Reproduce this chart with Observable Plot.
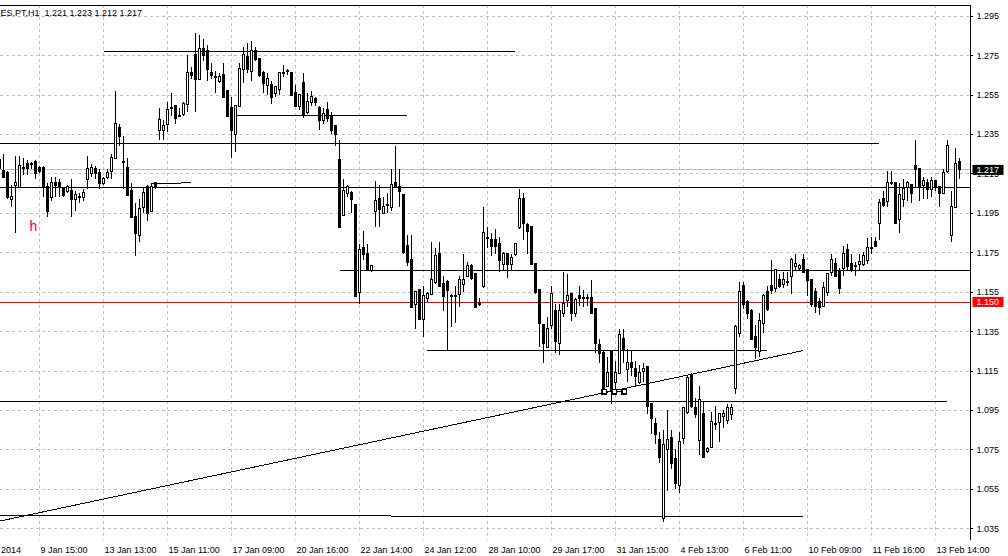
<!DOCTYPE html>
<html><head><meta charset="utf-8">
<script src="https://cdn.jsdelivr.net/npm/d3@7"></script>
<script src="https://cdn.jsdelivr.net/npm/@observablehq/plot@0.6"></script>
<style>
html,body{margin:0;padding:0;background:#fff;}
#chart{width:1008px;height:556px;overflow:hidden;}
</style></head><body><div id="chart"></div>
<script>
const symbolLabel = "ES.PT,H1\u00a0\u00a01.221 1.223 1.212 1.217";

// hourly bars, [open, high, low, close]
const ohlc = [
[1.222,1.227,1.214,1.218],[1.216,1.225,1.213,1.213],[1.215,1.216,1.202,1.203],[1.202,1.209,1.198,1.203],[1.209,1.224,1.185,1.210],
[1.208,1.224,1.208,1.219],[1.218,1.223,1.214,1.218],[1.220,1.222,1.214,1.218],[1.220,1.221,1.217,1.220],[1.221,1.222,1.212,1.215],
[1.218,1.219,1.215,1.216],[1.218,1.219,1.203,1.208],[1.208,1.210,1.193,1.196],[1.203,1.213,1.201,1.210],[1.210,1.213,1.203,1.209],
[1.210,1.212,1.203,1.208],[1.207,1.208,1.203,1.204],[1.206,1.209,1.205,1.208],[1.206,1.212,1.193,1.202],[1.202,1.206,1.196,1.204],
[1.203,1.205,1.200,1.203],[1.203,1.207,1.201,1.205],[1.212,1.224,1.207,1.217],[1.215,1.220,1.213,1.218],[1.217,1.219,1.212,1.215],
[1.215,1.217,1.207,1.210],[1.210,1.213,1.209,1.212],[1.213,1.217,1.212,1.215],[1.216,1.225,1.212,1.223],[1.223,1.257,1.223,1.240],
[1.238,1.240,1.229,1.234],[1.221,1.234,1.207,1.221],[1.218,1.223,1.204,1.204],[1.206,1.210,1.193,1.193],[1.193,1.200,1.173,1.185],
[1.184,1.202,1.180,1.197],[1.198,1.208,1.195,1.205],[1.208,1.209,1.191,1.195],[1.196,1.210,1.196,1.208],[1.210,1.210,1.207,1.208],
[1.237,1.248,1.232,1.242],[1.237,1.242,1.232,1.239],[1.240,1.251,1.236,1.247],[1.248,1.256,1.244,1.248],[1.249,1.249,1.240,1.243],
[1.244,1.248,1.244,1.244],[1.245,1.251,1.244,1.250],[1.250,1.275,1.246,1.266],[1.266,1.269,1.263,1.265],[1.275,1.286,1.246,1.263],
[1.263,1.285,1.263,1.278],[1.278,1.283,1.272,1.275],[1.277,1.280,1.262,1.268],[1.266,1.271,1.263,1.265],[1.264,1.267,1.256,1.264],
[1.262,1.266,1.261,1.264],[1.265,1.271,1.254,1.254],[1.257,1.257,1.244,1.244],[1.248,1.254,1.223,1.237],[1.235,1.249,1.226,1.249],
[1.249,1.271,1.249,1.268],[1.268,1.279,1.261,1.275],[1.274,1.281,1.266,1.268],[1.267,1.282,1.262,1.277],[1.277,1.279,1.272,1.273],
[1.273,1.273,1.264,1.265],[1.266,1.267,1.256,1.261],[1.260,1.266,1.255,1.263],[1.260,1.262,1.250,1.254],[1.256,1.259,1.254,1.259],
[1.258,1.266,1.255,1.266],[1.266,1.270,1.264,1.266],[1.267,1.268,1.265,1.267],[1.266,1.266,1.255,1.255],[1.256,1.260,1.249,1.249],
[1.249,1.255,1.247,1.255],[1.261,1.266,1.243,1.245],[1.246,1.256,1.245,1.251],[1.251,1.257,1.249,1.254],[1.253,1.254,1.249,1.251],
[1.248,1.249,1.237,1.242],[1.242,1.248,1.240,1.245],[1.247,1.251,1.241,1.243],[1.244,1.246,1.235,1.237],[1.239,1.239,1.229,1.235],
[1.222,1.232,1.188,1.188],[1.194,1.212,1.194,1.206],[1.205,1.209,1.203,1.208],[1.205,1.206,1.195,1.202],[1.199,1.199,1.153,1.153],
[1.155,1.179,1.149,1.176],[1.177,1.186,1.171,1.174],[1.174,1.179,1.166,1.166],[1.166,1.168,1.165,1.168],[1.196,1.211,1.188,1.201],
[1.202,1.209,1.188,1.197],[1.195,1.203,1.195,1.198],[1.199,1.205,1.195,1.199],[1.198,1.217,1.196,1.209],[1.210,1.229,1.208,1.208],
[1.208,1.217,1.198,1.206],[1.204,1.204,1.174,1.175],[1.178,1.184,1.168,1.170],[1.171,1.184,1.147,1.147],[1.149,1.155,1.136,1.155],
[1.156,1.156,1.141,1.141],[1.141,1.158,1.132,1.153],[1.152,1.155,1.150,1.154],[1.154,1.180,1.154,1.161],[1.160,1.177,1.159,1.173],
[1.174,1.180,1.158,1.158],[1.159,1.163,1.145,1.153],[1.160,1.161,1.125,1.156],[1.153,1.154,1.137,1.153],[1.153,1.158,1.139,1.153],
[1.154,1.163,1.147,1.161],[1.159,1.174,1.155,1.161],[1.163,1.170,1.163,1.168],[1.168,1.169,1.161,1.162],[1.164,1.164,1.147,1.147],
[1.149,1.152,1.148,1.149],[1.158,1.198,1.157,1.185],[1.182,1.188,1.177,1.182],[1.181,1.185,1.173,1.178],[1.181,1.187,1.174,1.178],
[1.179,1.183,1.165,1.171],[1.169,1.175,1.166,1.174],[1.174,1.174,1.162,1.169],[1.169,1.174,1.166,1.172],[1.174,1.179,1.173,1.179],
[1.188,1.207,1.187,1.202],[1.202,1.205,1.181,1.190],[1.189,1.190,1.174,1.186],[1.188,1.188,1.169,1.169],[1.169,1.169,1.154,1.155],
[1.156,1.156,1.127,1.139],[1.138,1.138,1.119,1.129],[1.127,1.142,1.127,1.136],[1.138,1.158,1.136,1.154],[1.145,1.149,1.124,1.130],
[1.129,1.149,1.123,1.145],[1.144,1.165,1.142,1.149],[1.151,1.164,1.147,1.153],[1.154,1.154,1.140,1.144],[1.144,1.152,1.142,1.151],
[1.153,1.158,1.148,1.152],[1.152,1.156,1.147,1.152],[1.152,1.154,1.148,1.152],[1.152,1.161,1.144,1.144],[1.146,1.146,1.124,1.129],
[1.128,1.131,1.119,1.124],[1.124,1.125,1.103,1.106],[1.107,1.122,1.107,1.114],[1.125,1.125,1.098,1.105],[1.109,1.120,1.105,1.114],
[1.114,1.136,1.114,1.133],[1.131,1.136,1.119,1.126],[1.116,1.126,1.109,1.119],[1.119,1.125,1.112,1.117],[1.116,1.120,1.107,1.112],
[1.109,1.118,1.108,1.114],[1.115,1.119,1.109,1.116],[1.117,1.117,1.093,1.097],[1.098,1.098,1.083,1.091],[1.088,1.091,1.078,1.083],
[1.080,1.084,1.068,1.071],[1.040,1.085,1.038,1.077],[1.075,1.095,1.054,1.080],[1.081,1.085,1.065,1.068],[1.070,1.075,1.055,1.058],
[1.057,1.084,1.053,1.079],[1.081,1.096,1.078,1.096],[1.094,1.112,1.093,1.111],[1.112,1.114,1.096,1.097],[1.096,1.101,1.091,1.093],
[1.080,1.107,1.072,1.100],[1.093,1.099,1.071,1.071],[1.074,1.076,1.073,1.075],[1.076,1.094,1.076,1.089],[1.088,1.097,1.085,1.088],
[1.089,1.093,1.079,1.093],[1.092,1.095,1.086,1.093],[1.090,1.098,1.088,1.096],[1.093,1.098,1.090,1.096],[1.106,1.138,1.103,1.137],
[1.134,1.160,1.132,1.155],[1.158,1.160,1.146,1.149],[1.150,1.151,1.141,1.144],[1.145,1.146,1.131,1.131],[1.132,1.138,1.121,1.127],
[1.125,1.144,1.122,1.140],[1.139,1.154,1.134,1.153],[1.155,1.158,1.145,1.146],[1.158,1.171,1.154,1.156],[1.157,1.166,1.155,1.166],
[1.161,1.164,1.157,1.158],[1.159,1.165,1.157,1.161],[1.160,1.165,1.158,1.160],[1.163,1.172,1.154,1.171],[1.168,1.174,1.166,1.169],
[1.167,1.169,1.166,1.168],[1.171,1.174,1.165,1.165],[1.166,1.166,1.153,1.161],[1.161,1.161,1.147,1.149],[1.155,1.157,1.144,1.148],
[1.150,1.152,1.143,1.147],[1.148,1.160,1.147,1.157],[1.155,1.164,1.153,1.164],[1.165,1.174,1.163,1.171],[1.169,1.172,1.163,1.163],
[1.165,1.167,1.154,1.157],[1.167,1.178,1.163,1.174],[1.176,1.179,1.166,1.168],[1.169,1.174,1.165,1.166],[1.168,1.170,1.163,1.168],
[1.169,1.174,1.166,1.170],[1.169,1.175,1.168,1.173],[1.171,1.182,1.169,1.177],[1.177,1.183,1.174,1.177],[1.180,1.183,1.178,1.178],
[1.190,1.202,1.181,1.200],[1.202,1.206,1.198,1.199],[1.201,1.216,1.198,1.210],[1.210,1.216,1.209,1.210],[1.210,1.210,1.190,1.190],
[1.192,1.210,1.185,1.204],[1.202,1.212,1.198,1.207],[1.208,1.211,1.201,1.210],[1.209,1.209,1.200,1.205],[1.219,1.232,1.208,1.217],
[1.217,1.217,1.201,1.208],[1.209,1.213,1.202,1.211],[1.210,1.212,1.202,1.207],[1.207,1.213,1.203,1.211],[1.211,1.211,1.206,1.208],
[1.208,1.208,1.198,1.205],[1.205,1.217,1.205,1.215],[1.216,1.232,1.215,1.229],[1.184,1.206,1.180,1.198],[1.198,1.228,1.198,1.220],
[1.221,1.223,1.212,1.217]
];

const timeTickBars = [-6,10,26,42,58,74,90,106,122,138,154,170,186,202,218,234];
const timeTickLabels = ["8 Jan 2014","9 Jan 15:00","13 Jan 13:00","15 Jan 11:00","17 Jan 09:00","20 Jan 16:00","22 Jan 14:00","24 Jan 12:00","28 Jan 10:00","29 Jan 17:00","31 Jan 15:00","4 Feb 13:00","6 Feb 11:00","10 Feb 09:00","11 Feb 16:00","13 Feb 14:00"];
const priceTicks = [1.035,1.055,1.075,1.095,1.115,1.135,1.155,1.175,1.195,1.215,1.235,1.255,1.275,1.295];

const fullLines = [1.208];
const redLines = [1.150];
const bidLines = [1.217];
// drawn objects: [bar1, price1, bar2, price2]
const segments = [
  [26,1.2769,128.9,1.2769],
  [59.4,1.2444,101.9,1.2444],
  [0,1.2302,219.9,1.2302],
  [38,1.2101,47.9,1.2105],
  [85,1.1658,242.75,1.1658],
  [106.9,1.1255,191.9,1.1255],
  [0,1.0994,236.9,1.0994],
  [0,1.0415,97.75,1.0415],
  [97.75,1.0411,200.9,1.0411],
  [0.25,1.0390,200.9,1.1254],
  [150.6,1.1045,156.8,1.1045]
];
const markerBars = [151.2,153.7,156.2];
const markerPrices = [1.1045,1.1045,1.1045];
const notes = [{k:8.5, p:1.186, text:"h"}];
const tags = [{p:1.217, label:"1.217", color:"#000000"},{p:1.150, label:"1.150", color:"#ff0000"}];

const xDomain = [0.25, 242.75];
const yDomain = [1.029065, 1.300432];

const bars = ohlc.map(([o,h,l,c],k) => ({k,o,h,l,c}));
const up = bars.filter(d => d.c >= d.o);
const down = bars.filter(d => d.c < d.o);
const timeTicks = timeTickBars.map((k,i) => ({k, label: timeTickLabels[i]}));
const segs = segments.map(([k1,p1,k2,p2]) => ({k1,p1,k2,p2}));
const markers = markerBars.map((k,i) => ({k, p: markerPrices[i]}));
const fmt = d3.format(".3f");
const crisp = {shapeRendering: "crispEdges"};

const chart = Plot.plot({
  width: 1008, height: 556,
  marginLeft: 0, marginRight: 38, marginTop: 5, marginBottom: 16,
  x: {domain: xDomain, axis: null},
  y: {domain: yDomain, axis: null},
  style: {fontFamily: "'Liberation Sans', Arial, sans-serif", fontSize: "9px", background: "#fff", color: "#000", overflow: "hidden"},
  marks: [
    Plot.ruleY(priceTicks, {stroke: "#c0c0c0", strokeDasharray: "3,3", ...crisp}),
    Plot.ruleX(timeTickBars.filter(k => k >= xDomain[0]), {stroke: "#c0c0c0", strokeDasharray: "3,3", ...crisp}),
    Plot.ruleY(bidLines, {stroke: "#c0c0c0", ...crisp}),
    Plot.ruleY(fullLines, {stroke: "#000", ...crisp}),
    Plot.ruleY(redLines, {stroke: "#ff0000", ...crisp}),
    Plot.link(segs, {x1: "k1", y1: "p1", x2: "k2", y2: "p2", stroke: "#000", ...crisp}),
    Plot.ruleX(bars, {x: "k", y1: "l", y2: "h", stroke: "#000", ...crisp}),
    Plot.rect(up, {x1: d => d.k - 0.25, x2: d => d.k + 0.25, y1: "o", y2: "c", fill: "#fff", stroke: "#000", insetTop: -0.5, insetBottom: -0.5, ...crisp}),
    Plot.rect(down, {x1: d => d.k - 0.25, x2: d => d.k + 0.25, y1: "o", y2: "c", fill: "#000", stroke: "#000", insetTop: -0.5, insetBottom: -0.5, ...crisp}),
    Plot.dot(markers, {x: "k", y: "p", symbol: "square", r: 2.4, fill: "#fff", stroke: "#000", ...crisp}),
    Plot.text(notes, {x: "k", y: "p", text: "text", fill: "#ff0000", fontSize: 14, lineAnchor: "bottom"}),
    Plot.text([symbolLabel], {text: d => d, frameAnchor: "top-left", textAnchor: "start", lineAnchor: "middle", dy: 8, fill: "#000"}),
    Plot.ruleY(priceTicks, {x1: xDomain[1], x2: xDomain[1] + 0.75, stroke: "#000", ...crisp}),
    Plot.text(priceTicks, {y: d => d, text: d => fmt(d), frameAnchor: "right", textAnchor: "start", dx: 6, fill: "#000"}),
    Plot.text(timeTicks, {x: "k", text: "label", frameAnchor: "bottom", textAnchor: "start", lineAnchor: "bottom", dx: 1, dy: 12, fill: "#000"}),
    Plot.ruleY([yDomain[1]], {stroke: "#000", ...crisp}),
    Plot.ruleX([xDomain[1]], {stroke: "#000", ...crisp}),
    Plot.text(tags, {y: "p", text: "label", frameAnchor: "right", textAnchor: "start", dx: 6, fill: "white"})
  ]
});
document.getElementById("chart").append(chart);

// background boxes for the price tags on the scale
const tagColor = new Map(tags.map(t => [t.label, t.color]));
chart.querySelectorAll('g[fill="white"] > text').forEach(t => {
  const b = t.getBBox();
  const cy = b.y + b.height / 2;
  const r = document.createElementNS("http://www.w3.org/2000/svg", "rect");
  r.setAttribute("x", b.x - 4);
  r.setAttribute("y", cy - 5);
  r.setAttribute("width", b.width + 8.5);
  r.setAttribute("height", 10);
  r.setAttribute("fill", tagColor.get(t.textContent) || "#000");
  const tr = t.getAttribute("transform");
  if (tr) r.setAttribute("transform", tr);
  t.parentNode.insertBefore(r, t);
});
</script></body></html>
